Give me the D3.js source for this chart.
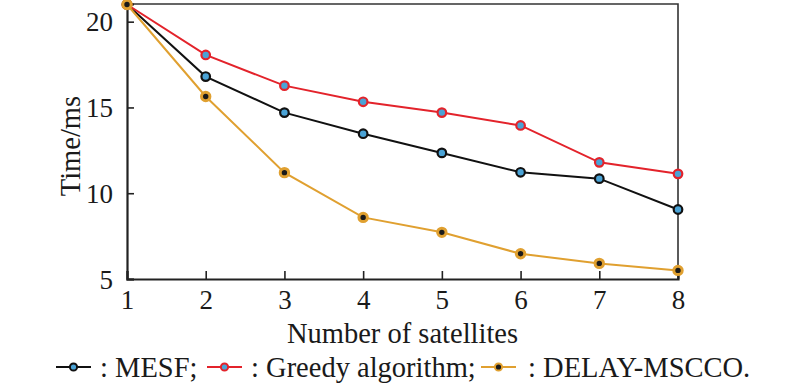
<!DOCTYPE html>
<html>
<head>
<meta charset="utf-8">
<script src="https://cdn.jsdelivr.net/npm/d3@7/dist/d3.min.js"></script>
<style>
  body { margin: 0; background: #fff; }
  svg text { font-family: "Liberation Serif", "Times New Roman", Times, "DejaVu Serif", serif; fill: #1a1a1a; }
</style>
</head>
<body>
<svg id="chart" width="800" height="386"></svg>
<script>
// data
const satellites = [1, 2, 3, 4, 5, 6, 7, 8];
const mesf = [21.0, 16.8, 14.7, 13.47, 12.35, 11.22, 10.85, 9.05];
const greedy = [21.0, 18.06, 16.27, 15.33, 14.7, 13.95, 11.8, 11.13];
const delayMscco = [21.0, 15.64, 11.2, 8.59, 7.72, 6.47, 5.91, 5.5];
const yTicks = [5, 10, 15, 20];

const serif = '"Liberation Serif", "Times New Roman", Times, "DejaVu Serif", serif';

const series = [
    { name: ': MESF;', values: mesf, stroke: '#111111', fill: '#4aa3d6', r: 4.3, sw: 2.2 },
    { name: ': Greedy algorithm;', values: greedy, stroke: '#e3232b', fill: '#4aa3d6', r: 4.3, sw: 2.2 },
    { name: ': DELAY-MSCCO.', values: delayMscco, stroke: '#e0a030', fill: '#1a1a1a', r: 4.2, sw: 3 }
];

const margin = { top: 4, right: 122, bottom: 107, left: 127 };
const width = 800 - margin.left - margin.right;
const height = 386 - margin.top - margin.bottom;

const svg = d3.select('#chart');
const chart = svg.append('g')
    .attr('transform', `translate(${margin.left}, ${margin.top})`);

const xScale = d3.scaleLinear().domain([1, 8]).range([0, width]);
const yScale = d3.scaleLinear().domain([5, 21.03]).range([height, 0]);

// frame (top / right)
chart.append('path')
    .attr('d', `M0,0H${width}V${height}`)
    .attr('fill', 'none')
    .attr('stroke', '#333')
    .attr('stroke-width', 1.6);

// x axis, ticks pointing inwards
const xAxis = chart.append('g')
    .attr('class', 'axis axis-x')
    .attr('transform', `translate(0, ${height})`)
    .call(d3.axisBottom(xScale).tickValues(satellites).tickSize(-8).tickPadding(11).tickFormat(d3.format('d')));

// y axis, ticks pointing inwards
const yAxis = chart.append('g')
    .attr('class', 'axis axis-y')
    .call(d3.axisLeft(yScale).tickValues(yTicks).tickSize(-7).tickPadding(14));

[xAxis, yAxis].forEach(ax => {
    ax.attr('font-family', serif).attr('font-size', 27);
    ax.select('.domain').attr('stroke', '#222').attr('stroke-width', 2.2);
    ax.selectAll('.tick line').attr('stroke', '#222').attr('stroke-width', 1.6);
    ax.selectAll('.tick text').attr('fill', '#1a1a1a');
});
yAxis.selectAll('.tick text').attr('dy', '0.34em');

// lines and markers
const line = d3.line()
    .x((d, i) => xScale(satellites[i]))
    .y(d => yScale(d));

series.forEach(s => {
    chart.append('path')
        .datum(s.values)
        .attr('fill', 'none')
        .attr('stroke', s.stroke)
        .attr('stroke-width', 2)
        .attr('d', line);

    chart.selectAll(null)
        .data(s.values)
        .enter()
        .append('circle')
        .attr('cx', (d, i) => xScale(satellites[i]))
        .attr('cy', d => yScale(d))
        .attr('r', s.r)
        .attr('fill', s.fill)
        .attr('stroke', s.stroke)
        .attr('stroke-width', s.sw);
});

// axis titles
svg.append('text')
    .attr('x', margin.left + width / 2)
    .attr('y', 343)
    .attr('text-anchor', 'middle')
    .attr('font-family', serif)
    .attr('font-size', 28.5)
    .text('Number of satellites');

svg.append('text')
    .attr('transform', `translate(80, ${margin.top + yScale(12.75)}) rotate(-90)`)
    .attr('text-anchor', 'middle')
    .attr('font-family', serif)
    .attr('font-size', 28.5)
    .text('Time/ms');

// legend
const legendX = [56, 207, 481];
const legend = svg.append('g').attr('class', 'legend');
series.forEach((s, i) => {
    const g = legend.append('g').attr('transform', `translate(${legendX[i]}, 367)`);
    g.append('line')
        .attr('x1', 0).attr('x2', 35)
        .attr('stroke', s.stroke)
        .attr('stroke-width', 2);
    g.append('circle')
        .attr('cx', 17.5)
        .attr('r', 3.6)
        .attr('fill', s.fill)
        .attr('stroke', s.stroke)
        .attr('stroke-width', 2);
    g.append('text')
        .attr('x', i === 2 ? 47 : 44)
        .attr('y', 10)
        .attr('font-family', serif)
        .attr('font-size', 28.5)
        .text(s.name);
});
</script>
</body>
</html>
